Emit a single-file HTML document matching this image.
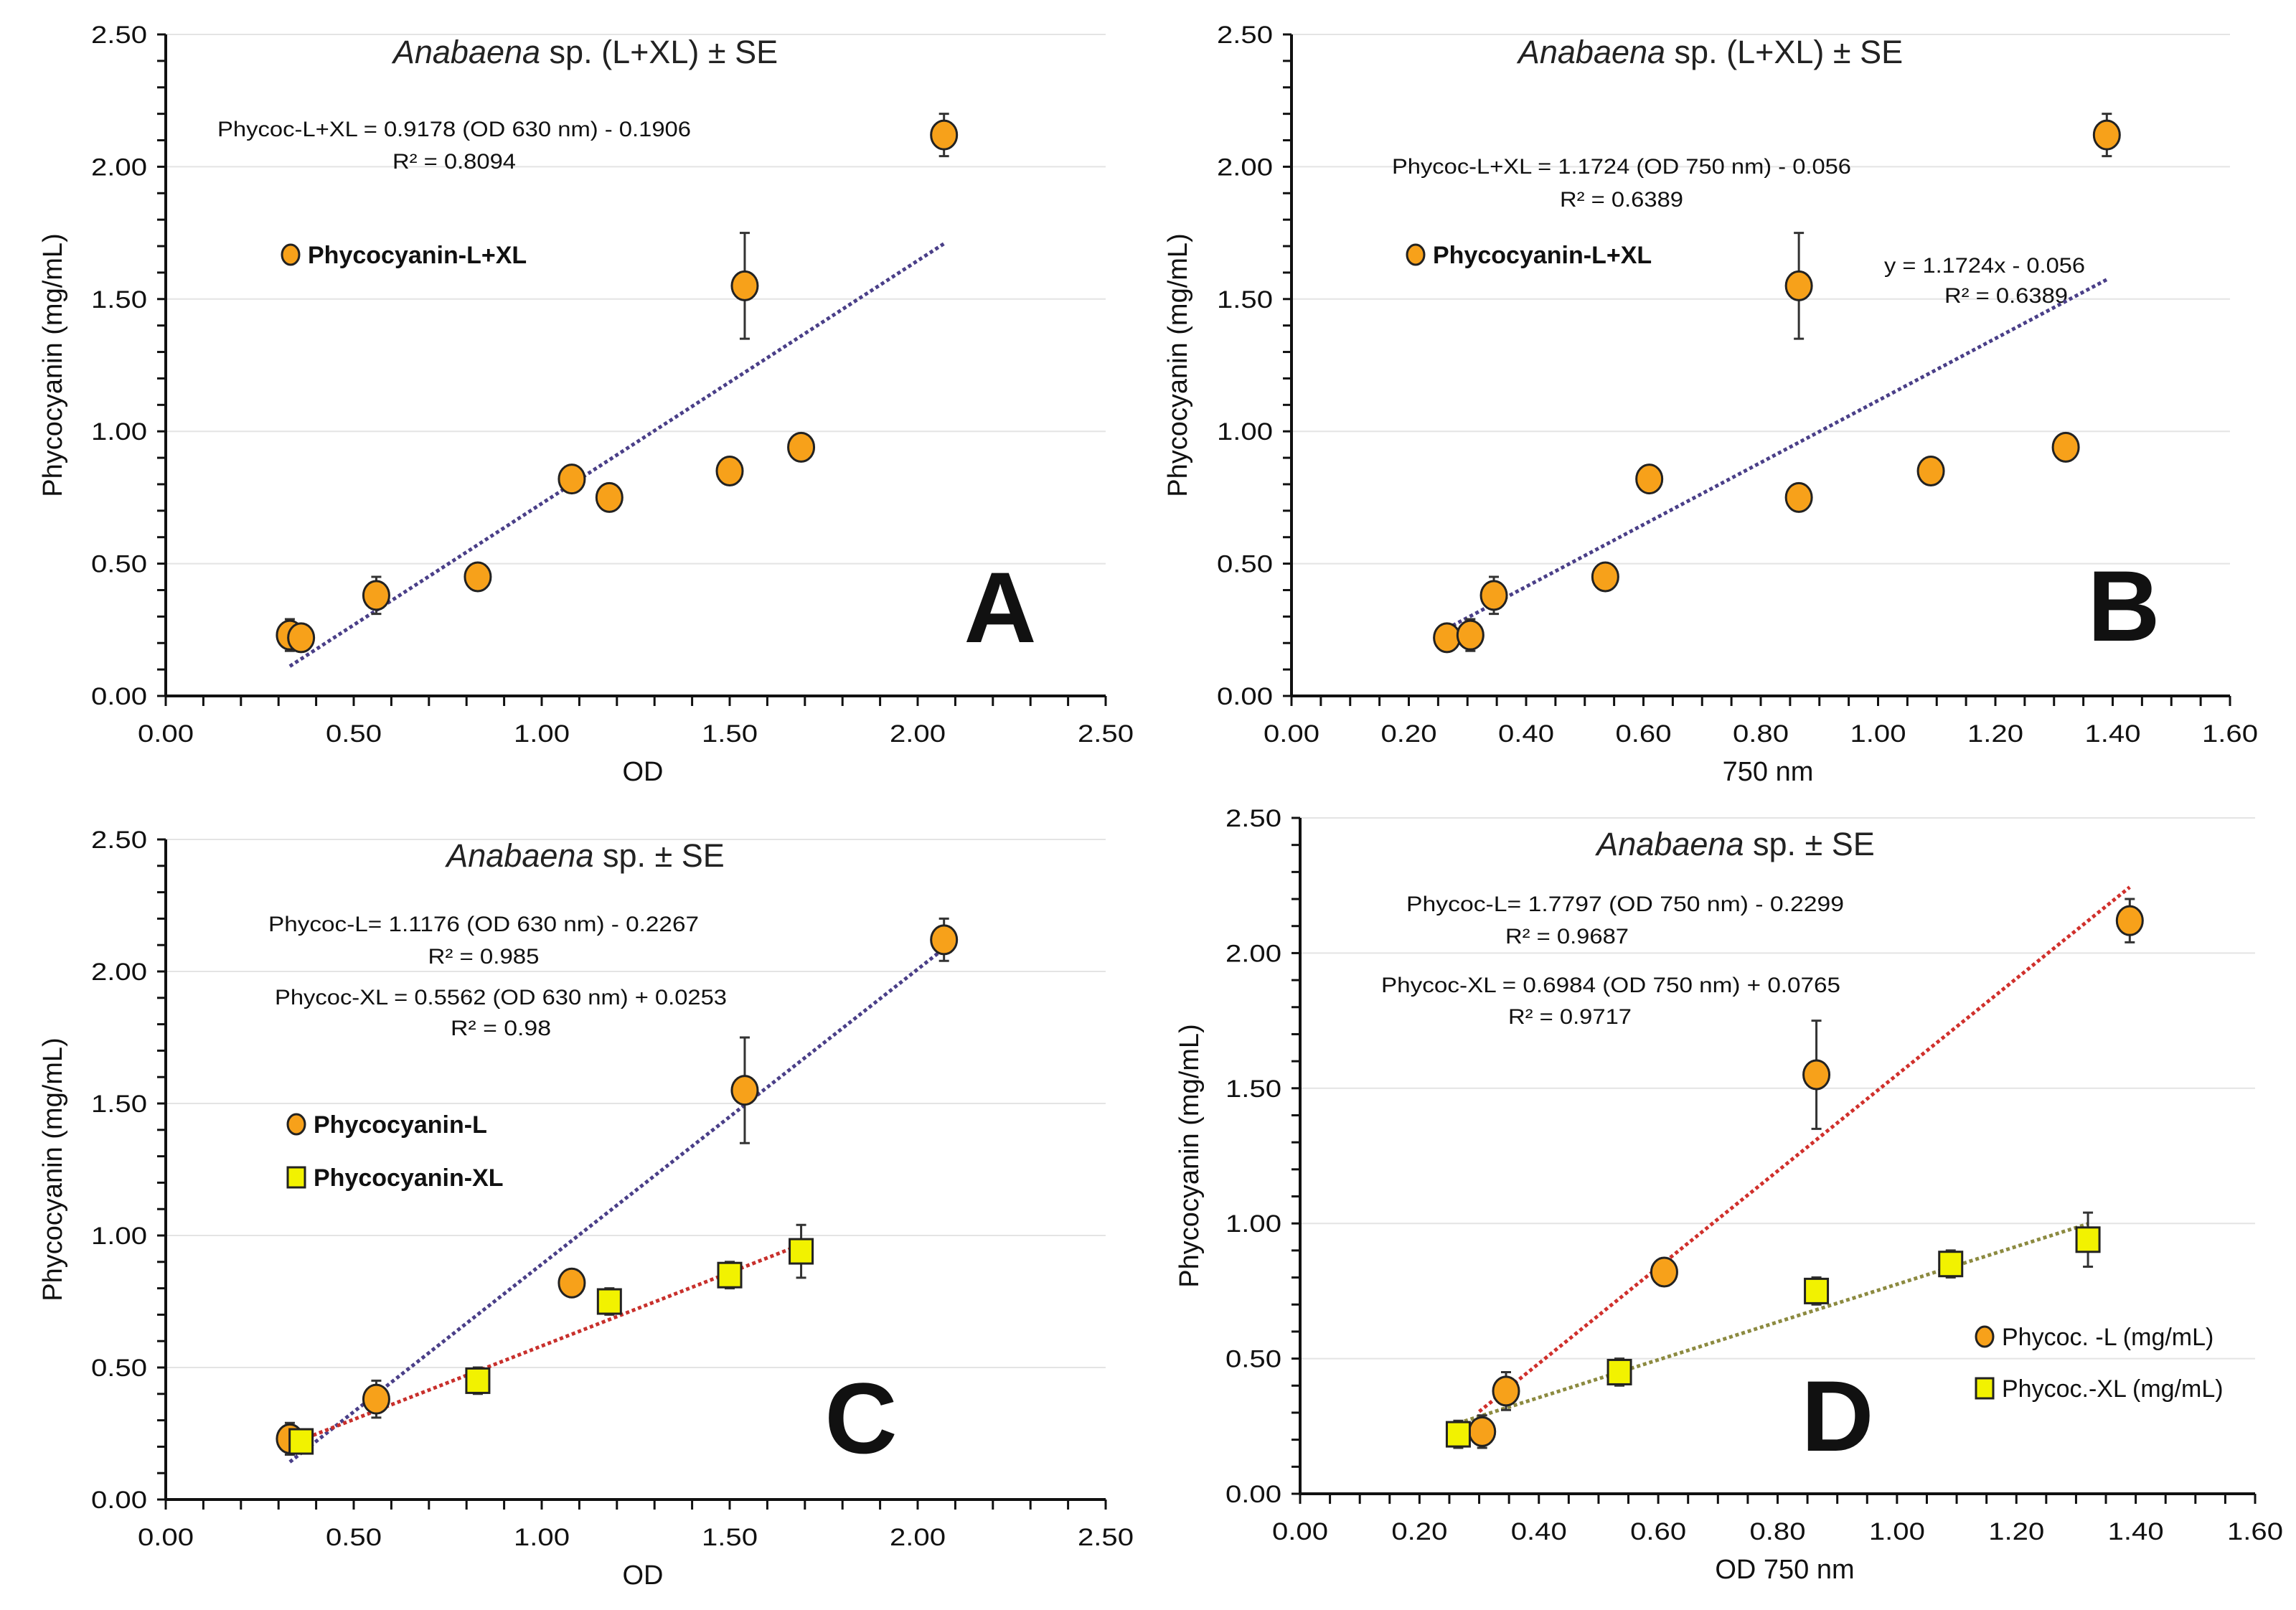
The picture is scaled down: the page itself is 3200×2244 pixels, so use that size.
<!DOCTYPE html>
<html><head><meta charset="utf-8">
<style>
html,body{margin:0;padding:0;background:#fff;}
svg{display:block;font-family:"Liberation Sans",sans-serif;}
</style></head>
<body>
<svg id="chart" width="3200" height="2244" viewBox="0 0 3200 2244"></svg>
<script>
// ---------- DATA ----------
const yTickLabels = ['0.00','0.50','1.00','1.50','2.00','2.50'];
const odTickLabels = ['0.00','0.50','1.00','1.50','2.00','2.50'];
const nmTickLabels = ['0.00','0.20','0.40','0.60','0.80','1.00','1.20','1.40','1.60'];

const aX = [0.33,0.36,0.56,0.83,1.08,1.18,1.50,1.54,1.69,2.07];
const aY = [0.23,0.22,0.38,0.45,0.82,0.75,0.85,1.55,0.94,2.12];
const aE = [0.06,0.03,0.07,0.02,0.05,0.03,0.02,0.20,0.02,0.08];

const bX = [0.265,0.305,0.345,0.535,0.61,0.865,1.09,0.865,1.32,1.39];
const bY = [0.22,0.23,0.38,0.45,0.82,0.75,0.85,1.55,0.94,2.12];
const bE = [0.03,0.06,0.07,0.02,0.05,0.03,0.02,0.20,0.02,0.08];

const cLX = [0.33,0.56,1.08,1.54,2.07];
const cLY = [0.23,0.38,0.82,1.55,2.12];
const cLE = [0.06,0.07,0.05,0.20,0.08];
const cXLX = [0.36,0.83,1.18,1.50,1.69];
const cXLY = [0.22,0.45,0.75,0.85,0.94];
const cXLE = [0.03,0.05,0.05,0.05,0.10];

const dLX = [0.305,0.345,0.61,0.865,1.39];
const dLY = [0.23,0.38,0.82,1.55,2.12];
const dLE = [0.06,0.07,0.05,0.20,0.08];
const dXLX = [0.265,0.535,0.865,1.09,1.32];
const dXLY = [0.22,0.45,0.75,0.85,0.94];
const dXLE = [0.05,0.05,0.05,0.05,0.10];

// trend coefficients [slope, intercept, xStart, xEnd]
const trendA = [0.9178,-0.1906,0.33,2.07];
const trendB = [1.1724,-0.056,0.265,1.39];
const trendCL = [1.1176,-0.2267,0.33,2.07];
const trendCXL = [0.5562,0.0253,0.36,1.69];
const trendDL = [1.7797,-0.2299,0.30,1.39];
const trendDXL = [0.6984,0.0765,0.265,1.32];

// ---------- DRAWING ----------
const NS = 'http://www.w3.org/2000/svg';
const svg = document.getElementById('chart');
function mk(tag, attrs, parent){
  const el = document.createElementNS(NS, tag);
  for (const k in attrs) el.setAttribute(k, attrs[k]);
  (parent||svg).appendChild(el);
  return el;
}
function txt(parent, s, x, y, size, opts){
  opts = opts||{};
  const t = mk('text',{x:x,y:y,'font-size':size,fill:'#111','text-anchor':opts.anchor||'middle'},parent);
  if (opts.weight) t.setAttribute('font-weight', opts.weight);
  if (opts.style) t.setAttribute('font-style', opts.style);
  if (opts.transform) t.setAttribute('transform', opts.transform);
  if (opts.len) { t.setAttribute('textLength', opts.len); t.setAttribute('lengthAdjust','spacingAndGlyphs'); }
  t.textContent = s;
  return t;
}

function makePanel(id, L){
  const g = mk('g',{});
  
  
  const sx = v => L.x0 + v / L.xmax * (L.x1 - L.x0);
  const sy = v => L.y0 - v / 2.5 * (L.y0 - L.y1);
  yTickLabels.forEach(s => {
    const v = parseFloat(s);
    if (v === 0) return;
    const gl = mk('line',{x1:L.x0,x2:L.x1,y1:sy(v),y2:sy(v),stroke:'#e4e4e4','stroke-width':2},g);
    
    
  });
  for (let v = 0; v <= 2.5001; v += 0.1) {
    mk('line',{x1:L.x0-12,x2:L.x0,y1:sy(v),y2:sy(v),stroke:'#111','stroke-width':3},g);
  }
  for (let v = 0; v <= L.xmax + 1e-6; v += L.xminor) {
    mk('line',{x1:sx(v),x2:sx(v),y1:L.y0,y2:L.y0+14,stroke:'#111','stroke-width':3},g);
  }
  const ya = mk('line',{x1:L.x0,x2:L.x0,y1:L.y1,y2:L.y0,stroke:'#111','stroke-width':4},g);
  
  
  const xa = mk('line',{x1:L.x0,x2:L.x1,y1:L.y0,y2:L.y0,stroke:'#111','stroke-width':4},g);
  
  
  yTickLabels.forEach(s => {
    const t = txt(g, s, L.x0 - 26, sy(parseFloat(s)) + 12, 34, {anchor:'end', len: 78});
    
    
  });
  L.xticks.forEach(s => {
    const t = txt(g, s, sx(parseFloat(s)), L.y0 + 64, 34, {len: 78});
    
    
  });
  const yt = txt(g, 'Phycocyanin (mg/mL)', 0, 0, 38, {transform:`translate(${L.ytx},${(L.y0+L.y1)/2}) rotate(-90)`});
  
  
  const xt = txt(g, L.xtitle, (L.x0+L.x1)/2 + 10, L.y0 + 118, 38);
  
  
  return {g, sx, sy};
}

function trend(P, tr, color, name){
  const [m,b,xa,xb] = tr;
  const l = mk('line',{x1:P.sx(xa),y1:P.sy(m*xa+b),x2:P.sx(xb),y2:P.sy(m*xb+b),stroke:color,'stroke-width':5,'stroke-dasharray':'5 4'},P.g);
  
  
}
function points(P, xs, ys, es, shape, name){
  xs.forEach((x,i) => {
    const cx = P.sx(x), cy = P.sy(ys[i]);
    const yTop = P.sy(ys[i]+es[i]), yBot = P.sy(ys[i]-es[i]);
    const eb = mk('path',{d:`M${cx},${yTop}V${yBot}M${cx-7},${yTop}H${cx+7}M${cx-7},${yBot}H${cx+7}`,stroke:'#333','stroke-width':3,fill:'none'},P.g);
    
    
    let m;
    if (shape === 'circle') m = mk('ellipse',{cx:cx,cy:cy,rx:18,ry:20,fill:'#f7a11a',stroke:'#222','stroke-width':3},P.g);
    else m = mk('rect',{x:cx-16,y:cy-17,width:32,height:34,fill:'#f2f200',stroke:'#222','stroke-width':3},P.g);
    
    
  });
}
function legendItem(g, shape, x, y, label, weight, name){
  const lg = mk('g',{},g);
  
  
  if (shape === 'circle') mk('ellipse',{cx:x,cy:y,rx:12,ry:14,fill:'#f7a11a',stroke:'#222','stroke-width':3},lg);
  else mk('rect',{x:x-12,y:y-14,width:24,height:28,fill:'#f2f200',stroke:'#222','stroke-width':3},lg);
  txt(lg, label, x+24, y+12, 34, {anchor:'start', weight:weight});
}
function title(g, x, y, rest){
  const t = mk('text',{x:x,y:y,'font-size':45,'text-anchor':'middle',fill:'#222'},g);
  
  
  const it = mk('tspan',{'font-style':'italic'},t); it.textContent = 'Anabaena';
  const r = mk('tspan',{},t); r.textContent = rest;
}
function note(g, s, x, y, len, name){
  const t = txt(g, s, x, y, 30, {len: len});
  
  
}
function letter(g, s, x, y){
  const t = txt(g, s, x, y, 140, {weight:'bold'});
  
  
}

// Panel A
const PA = makePanel('a', {x0:231,x1:1541,y0:970,y1:48,xmax:2.5,xminor:0.1,xticks:odTickLabels,xtitle:'OD',ytx:86});
title(PA.g, 816, 88, ' sp. (L+XL) ± SE');
note(PA.g, 'Phycoc-L+XL = 0.9178 (OD 630 nm) - 0.1906', 633, 190, 660, 'equation-a');
note(PA.g, 'R² = 0.8094', 633, 235, 172, 'r-squared-a');
legendItem(PA.g, 'circle', 405, 355, 'Phycocyanin-L+XL', 'bold', 'legend-entry-a');
trend(PA, trendA, '#4a3f88', 'trendline-a');
points(PA, aX, aY, aE, 'circle', 'point-a');
letter(PA.g, 'A', 1394, 895);

// Panel B
const PB = makePanel('b', {x0:1800,x1:3108,y0:970,y1:48,xmax:1.6,xminor:0.05,xticks:nmTickLabels,xtitle:'750 nm',ytx:1654});
title(PB.g, 2384, 88, ' sp. (L+XL) ± SE');
note(PB.g, 'Phycoc-L+XL = 1.1724 (OD 750 nm) - 0.056', 2260, 242, 640, 'equation-b');
note(PB.g, 'R² = 0.6389', 2260, 288, 172, 'r-squared-b');
note(PB.g, 'y = 1.1724x - 0.056', 2766, 380, 280, 'trend-equation-b');
note(PB.g, 'R² = 0.6389', 2796, 422, 172, 'trend-r-squared-b');
legendItem(PB.g, 'circle', 1973, 355, 'Phycocyanin-L+XL', 'bold', 'legend-entry-b');
trend(PB, trendB, '#4a3f88', 'trendline-b');
points(PB, bX, bY, bE, 'circle', 'point-b');
letter(PB.g, 'B', 2960, 893);

// Panel C
const PC = makePanel('c', {x0:231,x1:1541,y0:2090,y1:1170,xmax:2.5,xminor:0.1,xticks:odTickLabels,xtitle:'OD',ytx:86});
title(PC.g, 816, 1208, ' sp. ± SE');
note(PC.g, 'Phycoc-L= 1.1176 (OD 630 nm) - 0.2267', 674, 1298, 600, 'equation-c-l');
note(PC.g, 'R² = 0.985', 674, 1343, 155, 'r-squared-c-l');
note(PC.g, 'Phycoc-XL = 0.5562 (OD 630 nm) + 0.0253', 698, 1400, 630, 'equation-c-xl');
note(PC.g, 'R² = 0.98', 698, 1443, 140, 'r-squared-c-xl');
legendItem(PC.g, 'circle', 413, 1567, 'Phycocyanin-L', 'bold', 'legend-entry-c-l');
legendItem(PC.g, 'square', 413, 1641, 'Phycocyanin-XL', 'bold', 'legend-entry-c-xl');
trend(PC, trendCL, '#4a3f88', 'trendline-c-l');
trend(PC, trendCXL, '#c8302c', 'trendline-c-xl');
points(PC, cLX, cLY, cLE, 'circle', 'point-c-l');
points(PC, cXLX, cXLY, cXLE, 'square', 'point-c-xl');
letter(PC.g, 'C', 1200, 2025);

// Panel D
const PD = makePanel('d', {x0:1812,x1:3143,y0:2082,y1:1140,xmax:1.6,xminor:0.05,xticks:nmTickLabels,xtitle:'OD 750 nm',ytx:1670});
title(PD.g, 2419, 1192, ' sp. ± SE');
note(PD.g, 'Phycoc-L= 1.7797 (OD 750 nm) - 0.2299', 2265, 1270, 610, 'equation-d-l');
note(PD.g, 'R² = 0.9687', 2184, 1315, 172, 'r-squared-d-l');
note(PD.g, 'Phycoc-XL = 0.6984 (OD 750 nm) + 0.0765', 2245, 1383, 640, 'equation-d-xl');
note(PD.g, 'R² = 0.9717', 2188, 1427, 172, 'r-squared-d-xl');
legendItem(PD.g, 'circle', 2766, 1863, 'Phycoc. -L (mg/mL)', 'normal', 'legend-entry-d-l');
legendItem(PD.g, 'square', 2766, 1935, 'Phycoc.-XL (mg/mL)', 'normal', 'legend-entry-d-xl');
trend(PD, trendDL, '#d0302c', 'trendline-d-l');
trend(PD, trendDXL, '#8c8a40', 'trendline-d-xl');
points(PD, dLX, dLY, dLE, 'circle', 'point-d-l');
points(PD, dXLX, dXLY, dXLE, 'square', 'point-d-xl');
letter(PD.g, 'D', 2561, 2022);
</script>
</body></html>
